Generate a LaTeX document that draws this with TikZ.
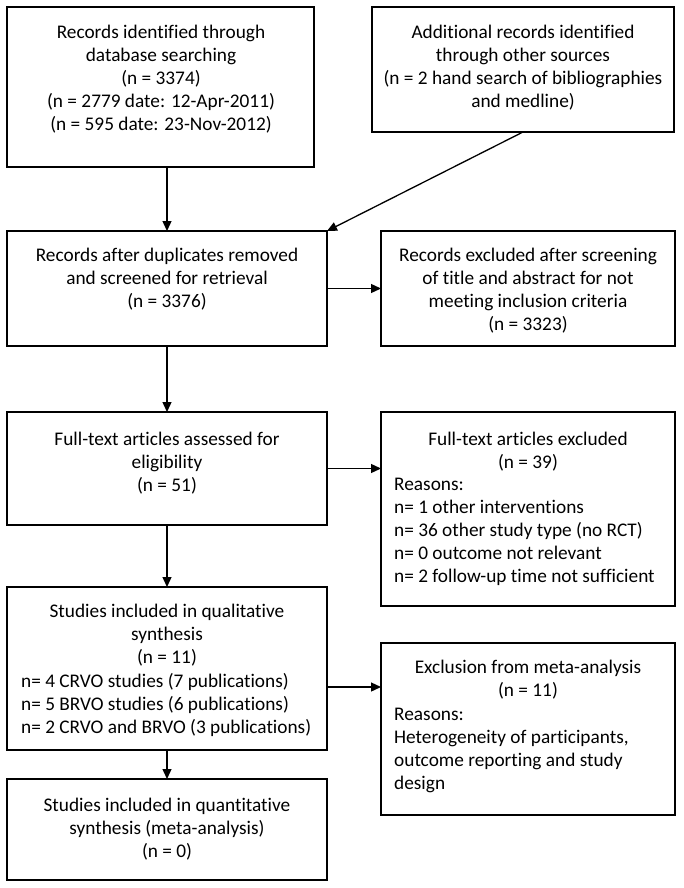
\documentclass[tikz,border=0pt]{standalone}
\usepackage{fontspec}
\setmainfont{Carlito}[RawFeature={-liga,-clig,-dlig,-calt,-hlig}]
\usetikzlibrary{arrows.meta}
\begin{document}
\begin{tikzpicture}[x=1pt,y=-1pt,
  box/.style={draw=black,line width=1.3pt,rectangle,inner sep=0pt,outer sep=0pt,anchor=north west},
  ctext/.style={align=center,inner sep=0pt,font=\fontsize{19.3}{23}\selectfont},
  ltext/.style={align=left,inner sep=0pt,anchor=west,font=\fontsize{19.3}{23}\selectfont},
  arr/.style={line width=1.3pt,-{Triangle[length=10pt,width=9pt]}}]
\useasboundingbox (0,0) rectangle (683,888);
% boxes
\node[box,minimum width=307pt,minimum height=160pt] (b1) at (7,7) {};
\node[box,minimum width=302pt,minimum height=125pt] (b2) at (372,7) {};
\node[box,minimum width=320pt,minimum height=115pt] (b3) at (7,231) {};
\node[box,minimum width=294pt,minimum height=115pt] (b4) at (381,231) {};
\node[box,minimum width=320pt,minimum height=113pt] (b5) at (7,412) {};
\node[box,minimum width=294pt,minimum height=194pt] (b6) at (381,412) {};
\node[box,minimum width=320pt,minimum height=163pt] (b7) at (7,587) {};
\node[box,minimum width=294pt,minimum height=172pt] (b8) at (381,643) {};
\node[box,minimum width=320pt,minimum height=101pt] (b9) at (7,779) {};
% texts
\node[ctext] (t1) at (161,79) {Records identified through\\database searching\\(n = 3374)\\(n = 2779 date: 12-Apr-2011)\\(n = 595 date: 23-Nov-2012)};
\node[ctext] (t2) at (523,67.5) {Additional records identified\\through other sources\\(n = 2 hand search of bibliographies\\and medline)};
\node[ctext] (t3) at (167,279) {Records after duplicates removed\\and screened for retrieval\\(n = 3376)};
\node[ctext] (t4) at (528,291) {Records excluded after screening\\of title and abstract for not\\meeting inclusion criteria\\(n = 3323)};
\node[ctext] (t5) at (167,463) {Full-text articles assessed for\\eligibility\\(n = 51)};
\node[ctext] (t6) at (528,451.5) {Full-text articles excluded\\(n = 39)};
\node[ltext] (t6b) at (394,532) {Reasons:\\n= 1 other interventions\\n= 36 other study type (no RCT)\\n= 0 outcome not relevant\\n= 2 follow-up time not sufficient};
\node[ctext] (t7) at (167,635) {Studies included in qualitative\\synthesis\\(n = 11)};
\node[ltext] (t7b) at (21,705) {n= 4 CRVO studies (7 publications)\\n= 5 BRVO studies (6 publications)\\n= 2 CRVO and BRVO (3 publications)};
\node[ctext] (t8) at (528,680) {Exclusion from meta-analysis\\(n = 11)};
\node[ltext] (t8b) at (394,750) {Reasons:\\Heterogeneity of participants,\\outcome reporting and study\\design};
\node[ctext] (t9) at (167,829) {Studies included in quantitative\\synthesis (meta-analysis)\\(n = 0)};
% connectors
\draw[arr] (b1.south -| b3.north) -- (b3.north);
\draw[arr] (b2.south) -- (b3.north east);
\draw[arr] (b3.east) -- (b3.east -| b4.west);
\draw[arr] (b3.south) -- (b5.north);
\draw[arr] (b5.east) -- (b5.east -| b6.west);
\draw[arr] (b5.south) -- (b7.north);
\coordinate (c78) at (327,687);
\draw[arr] (b7.east |- c78) -- (b8.west |- c78);
\draw[arr] (b7.south) -- (b9.north);
\end{tikzpicture}
\end{document}
